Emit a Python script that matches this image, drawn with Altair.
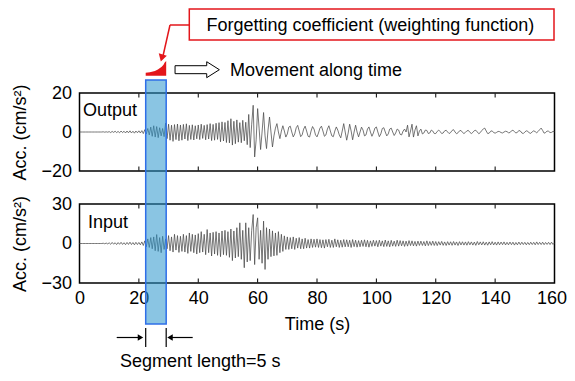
import altair as alt
import pandas as pd

# ---------------- data ----------------
STEP = 0.5  # seconds between samples

output_acc = [
    0, 0, 0, 0, 0, 0, 0, 0, 0, 0,
    0, 0, 0, 0, 0, 0, 0.1, -0.1, 0.1, -0.1,
    0.2, -0.3, 0.3, -0.2, 0.4, -0.3, 0.3, -0.4, 0.5, -0.3,
    0.4, -0.5, 0.5, -0.4, 0.6, -0.5, 0.4, -0.6, 0.5, -0.4,
    0.6, -0.5, 0.7, -0.8, 1.2, -1.0, 1.8, -1.5, 2.5, -2.2,
    3.2, -2.6, 2.8, -2.9, 2.2, -2.0, 1.8, -2.4, 4.6, -3.4,
    4.0, -4.2, 3.5, -4.8, 3.8, -3.9, 4.1, -4.5, 3.6, -4.2,
    3.9, -3.6, 4.2, -4.4, 3.4, -3.8, 3.7, -4.1, 3.2, -3.5,
    3.6, -3.9, 4.0, -3.3, 3.4, -4.0, 3.8, -3.6, 4.3, -4.4,
    3.9, -4.2, 4.5, -3.8, 4.8, -5.0, 5.2, -4.6, 4.9, -5.4,
    5.8, -5.6, 6.8, -6.7, 5.5, -6.0, 6.2, -5.2, 4.8, -5.5,
    6.0, -4.5, 5.0, -6.5, 9.0, -8.0, 4.0, 13.7, -12.8, -4.0,
    12.0, 2.0, -9.0, 0.0, 10.0, -2.0, -8.5, 1.0, 7.7, 0.0,
    -7.7, -2.0, 2.0, 4.3, 0.0, -3.4, 0.5, 3.2, 0.5, -2.6,
    -1.0, 2.5, 3.0, 0.0, -2.5, -1.0, 2.2, 3.4, 0.5, -2.4,
    -1.5, 1.5, 3.0, 0.5, -2.2, -2.6, 0.5, 2.8, 1.5, -1.5,
    -2.5, -0.5, 2.0, 3.0, 0.5, -2.2, -1.5, 1.5, 3.2, 0.5,
    -2.0, -2.4, 0.5, 2.6, 1.0, -1.5, -3.0, 0.5, 4.3, 0.0,
    -4.2, -0.5, 4.0, 0.5, -4.0, 0.0, 3.5, 0.0, -2.5, 0.0,
    2.5, 1.0, -2.0, -1.5, 1.5, 2.6, 0.0, -2.2, -0.5, 2.0,
    2.6, 0.0, -2.4, -1.0, 1.8, 2.2, 0.0, -2.0, -1.0, 1.5,
    2.0, 0.0, -1.8, -0.5, 1.5, 1.0, -1.2, -1.5, 0.5, 1.5,
    0.0, 3.5, -2.5, 0.5, 4.0, -2.6, 1.0, 3.2, -2.0, 0.5,
    1.5, -1.0, -0.5, 1.0, 0.8, -0.8, -0.5, 1.0, 0.5, -0.8,
    -0.8, 0.3, 1.0, 0.2, -0.8, -0.5, 0.6, 0.9, 0.0, -0.8,
    -0.3, 0.8, 1.2, 0.0, -0.9, -0.4, 0.6, 0.8, -0.2, -0.8,
    -0.2, 0.6, 0.8, -0.2, -0.8, -0.2, 0.7, 0.9, 0.0, -0.9,
    -0.3, 0.8, 1.5, 2.0, 0.5, -0.8, -0.6, 0.4, 0.6, -0.3,
    -0.6, -0.2, 0.3, 0.2, -0.3, -0.5, 0.0, 0.4, 0.2, -0.4,
    -0.3, 0.6, 0.9, 0.2, -0.5, -0.2, 0.8, 0.5, -0.5, -0.8,
    0.0, 0.6, 0.4, -0.5, -0.7, 0.1, 0.6, 0.2, -0.4, 0.3,
    1.2, 2.0, 0.8, -0.6, -0.3, 0.5, 0.4, -0.3, -0.2, 0.3,
    0.2,
]

input_acc = [
    0, 0, 0, 0, 0, 0, 0, 0, 0, 0,
    0, 0, 0, 0, 0, 0, 0.2, -0.2, 0.3, -0.3,
    0.5, -0.6, 0.8, -0.5, 0.6, -0.8, 0.7, -0.6, 0.9, -0.7,
    0.6, -0.9, 0.8, -0.7, 1.0, -0.8, 0.7, -1.0, 0.9, -0.8,
    0.8, -1.0, 1.2, -1.5, 2.0, -2.5, 3.5, -3.0, 4.5, -4.0,
    5.0, -5.5, 6.8, -6.0, 4.5, -7.0, 5.5, -4.5, 3.5, -4.0,
    6.0, -5.5, 5.0, -6.5, 7.0, -5.0, 6.0, -6.8, 5.5, -6.0,
    7.0, -6.5, 6.0, -7.5, 8.0, -6.0, 7.0, -7.0, 6.5, -8.0,
    7.5, -7.0, 9.0, -6.5, 7.0, -8.5, 10.6, -7.0, 8.0, -9.5,
    8.5, -8.0, 9.0, -9.0, 8.0, -10.0, 9.5, -8.5, 10.0, -9.0,
    9.0, -10.5, 11.0, -13.0, 9.5, -11.0, 12.0, -10.0, 15.7, -12.0,
    10.0, -18.4, 15.7, -14.0, 12.0, -13.0, 10.0, 22.0, -16.0, 12.0,
    19.5, -12.0, 10.0, -15.0, 17.0, -19.7, 12.0, -12.0, 11.0, -10.0,
    9.6, -9.4, 8.0, -9.0, 9.0, -7.0, 7.0, -6.0, 5.8, -4.5,
    5.0, -4.5, 4.5, -4.0, 5.0, -4.5, 4.0, -3.5, 4.5, -4.0,
    3.5, -4.0, 4.0, -3.5, 3.0, -3.5, 3.5, -3.0, 3.2, -2.8,
    3.5, -3.0, 3.0, -3.2, 2.8, -3.5, 3.0, -2.5, 3.2, -3.0,
    2.5, -3.0, 3.5, -2.5, 2.8, -3.0, 2.5, -2.8, 3.0, -2.5,
    2.8, -2.5, 2.5, -3.0, 3.0, -2.4, 2.5, -2.8, 2.2, -2.5,
    2.5, -2.2, 2.8, -2.5, 2.4, -2.8, 2.0, -2.2, 2.5, -2.0,
    2.2, -2.5, 2.5, -2.0, 2.0, -2.4, 2.6, -2.2, 2.0, -2.5,
    2.4, -2.0, 1.8, -2.2, 2.5, -2.0, 2.2, -1.8, 2.0, -2.2,
    1.8, -2.0, 2.2, -1.6, 2.0, -1.8, 1.6, -2.0, 1.8, -1.5,
    1.8, -1.5, 1.5, -1.8, 2.0, -1.6, 1.5, -1.4, 1.8, -1.5,
    1.5, -1.6, 1.4, -1.2, 1.6, -1.4, 1.2, -1.5, 1.4, -1.2,
    1.3, -1.4, 1.5, -1.2, 1.2, -1.5, 1.4, -1.1, 1.3, -1.2,
    1.2, -1.3, 1.4, -1.0, 1.2, -1.2, 1.1, -1.4, 1.5, -1.0,
    1.2, -1.1, 1.3, -1.2, 1.0, -1.3, 1.2, -1.0, 1.4, -1.1,
    1.0, -1.2, 1.2, -1.0, 1.1, -0.9, 1.2, -1.1, 0.9, -1.0,
    1.1, -0.9, 1.0, -1.2, 0.8, -1.0, 1.1, -0.9, 1.0, -0.8,
    0.9, -1.0, 0.8, -0.9, 1.0, -0.8, 0.9, -1.0, 1.2, -0.8,
    0.9, -0.8, 1.0, -0.9, 0.8, -0.7, 0.9, -0.8, 1.0, -0.7,
    0.5,
]

x_tick_labels = [0, 20, 40, 60, 80, 100, 120, 140, 160]
inner_ticks = [20, 40, 60, 80, 100, 120, 140]
segment_start = [22.3]
segment_end = [29.2]
weight_time = [22.3, 23.7, 25.4, 26.4, 27.7, 28.3, 28.7, 29.2]
weight_value = [0.2, 0.24, 0.32, 0.42, 0.61, 0.75, 0.9, 1.0]

# ---------------- tables ----------------
out_df = pd.DataFrame({"t": [i * STEP for i in range(len(output_acc))], "a": output_acc})
in_df = pd.DataFrame({"t": [i * STEP for i in range(len(input_acc))], "a": input_acc})
tick_df = pd.DataFrame({"t": inner_ticks})
seg_df = pd.DataFrame({"t": segment_start, "end": segment_end})
seg_end_df = pd.DataFrame({"t": segment_end})
w_df = pd.DataFrame({"t": weight_time, "w": weight_value})
one = pd.DataFrame({"k": [0]})

FONT = "Liberation Sans"
W, H1, H2, GAP = 475, 78, 79, 33
CANVAS_W, CANVAS_H = 559, 363
LEFT, TOP = 71.5, 85
RED = "#e3161b"
WAVE = "#4a4a4a"
xdom = alt.Scale(domain=[0, 160], nice=False, zero=False)

x_axis_bottom = alt.Axis(values=x_tick_labels, ticks=False, domain=False, grid=False,
                         title="Time (s)", labelFontSize=18, titleFontSize=18,
                         titleFontWeight="normal", labelPadding=6, titlePadding=8,
                         labelOffset=alt.ExprRef(expr="datum.value == 160 ? -3 : 0"),
                         labelFlush=False, labelOverlap=False, zindex=0)


def yaxis(vals):
    return alt.Axis(values=vals, ticks=False, domain=False, grid=False,
                    title="Acc. (cm/s²)", labelFontSize=18, titleFontSize=18,
                    titleFontWeight="normal", labelPadding=8, titlePadding=11.5,
                    labelFlush=False, labelOverlap=False, zindex=0)


def text(label, x, y, size=18, color="black"):
    return alt.Chart(pd.DataFrame({"s": [label]})).mark_text(
        align="left", baseline="alphabetic", font=FONT, fontSize=size, color=color
    ).encode(x=alt.value(x), y=alt.value(y), text="s:N")


def rule(x, x2, y, y2, color="black", width=1.2):
    return alt.Chart(one).mark_rule(color=color, strokeWidth=width).encode(
        x=alt.value(x), x2=alt.value(x2), y=alt.value(y), y2=alt.value(y2))


def arrowhead(x, y, shape, size, angle=0, color="black"):
    return alt.Chart(one).mark_point(shape=shape, filled=True, color=color, size=size,
                                     angle=angle, opacity=1).encode(
        x=alt.value(x), y=alt.value(y))


def ticks(xaxis, h):
    a = alt.Chart(tick_df).mark_rule(color="black", strokeWidth=1).encode(
        x=alt.X("t:Q", scale=xdom, axis=xaxis), y=alt.value(0.5), y2=alt.value(4.5))
    b = alt.Chart(tick_df).mark_rule(color="black", strokeWidth=1).encode(
        x=alt.X("t:Q", scale=xdom, axis=xaxis), y=alt.value(h - 4.5), y2=alt.value(h - 0.5))
    return [a, b]


# ---------------- top panel (Output) ----------------
top_wave = alt.Chart(out_df).mark_line(color=WAVE, strokeWidth=0.75).encode(
    x=alt.X("t:Q", scale=xdom, axis=None),
    y=alt.Y("a:Q", scale=alt.Scale(domain=[-20, 20], nice=False), axis=yaxis([-20, 0, 20])),
)
weight = alt.Chart(w_df).mark_area(color=RED, opacity=1).encode(
    x=alt.X("t:Q", scale=xdom, axis=None),
    y=alt.Y("w:Q", scale=alt.Scale(domain=[0, 1], range=[-17.3, -32]), axis=None),
    y2=alt.value(-17.3),
)
red_box = alt.Chart(one).mark_rect(fill="white", stroke=RED, strokeWidth=1.5).encode(
    x=alt.value(109.8), x2=alt.value(474.5), y=alt.value(-84), y2=alt.value(-53))
red_line1 = rule(109.8, 90.5, -68, -68, color=RED, width=1.5)
red_line2 = rule(90.5, 83.5, -68, -37, color=RED, width=1.5)
red_head = arrowhead(82.3, -35, "triangle-down", 70, angle=16, color=RED)
move_arrow = alt.Chart(one).mark_point(
    shape="M-1,-0.18 L0.43,-0.18 L0.43,-0.36 L1,0 L0.43,0.36 L0.43,0.18 L-1,0.18 Z",
    size=1962, filled=True, fill="white", stroke="black", strokeWidth=1, opacity=1,
).encode(x=alt.value(117.7), y=alt.value(-23.3))

top = alt.layer(
    top_wave, *ticks(None, H1), weight, red_box, red_line1, red_line2, red_head,
    move_arrow,
    text("Forgetting coefficient (weighting function)", 127, -62),
    text("Movement along time", 150.5, -17),
    text("Output", 3.5, 23),
).resolve_scale(y="independent").properties(width=W, height=H1)

# ---------------- bottom panel (Input) ----------------
bot_wave = alt.Chart(in_df).mark_line(color=WAVE, strokeWidth=0.75).encode(
    x=alt.X("t:Q", scale=xdom, axis=x_axis_bottom),
    y=alt.Y("a:Q", scale=alt.Scale(domain=[-30, 30], nice=False), axis=yaxis([-30, 0, 30])),
)
seg_rect = alt.Chart(seg_df).mark_rect(
    fill="#2a95cc", fillOpacity=0.55, stroke="#2f6fe8", strokeWidth=1.5
).encode(x=alt.X("t:Q", scale=xdom, axis=x_axis_bottom), x2="end:Q",
         y=alt.value(-124), y2=alt.value(120))
bar_l = alt.Chart(seg_df).mark_rule(color="black", strokeWidth=1.2).encode(
    x=alt.X("t:Q", scale=xdom, axis=x_axis_bottom), y=alt.value(124), y2=alt.value(143))
bar_r = alt.Chart(seg_end_df).mark_rule(color="black", strokeWidth=1.2).encode(
    x=alt.X("t:Q", scale=xdom, axis=x_axis_bottom), y=alt.value(124), y2=alt.value(143))
ARR_Y = 133.5
arr_l = rule(37.2, 61, ARR_Y, ARR_Y)
arr_r = rule(113.2, 90, ARR_Y, ARR_Y)
head_l = arrowhead(61, ARR_Y, "triangle-right", 40)
head_r = arrowhead(90.5, ARR_Y, "triangle-left", 40)

bottom = alt.layer(
    bot_wave, *ticks(x_axis_bottom, H2), seg_rect, bar_l, bar_r, arr_l, arr_r, head_l, head_r,
    text("Segment length=5 s", 40.5, 163),
    text("Input", 8.5, 24),
).properties(width=W, height=H2)

chart = alt.vconcat(top, bottom, spacing=GAP, bounds="flush").properties(
    autosize=alt.AutoSizeParams(type="none"),
    padding={"left": LEFT, "top": TOP, "right": CANVAS_W - LEFT - W, "bottom": CANVAS_H - TOP},
).configure_view(stroke="black", strokeWidth=1.5).configure_axis(
    labelFont=FONT, titleFont=FONT, labelColor="black", titleColor="black"
)

chart.save("out.html", embed_options={"renderer": "svg", "actions": False})
